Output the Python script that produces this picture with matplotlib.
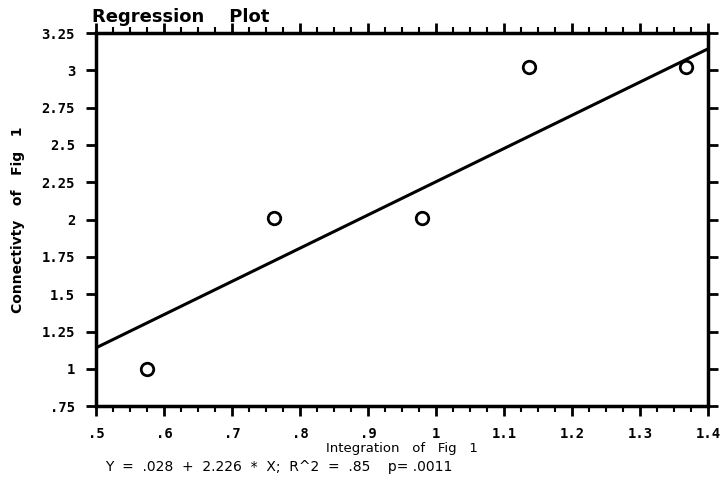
import numpy as np
import matplotlib.pyplot as plt
from matplotlib.ticker import MultipleLocator

# dati
integrazione = np.array([0.575, 0.762, 0.980, 1.137, 1.368])
connettivita = np.array([1.00, 2.01, 2.01, 3.02, 3.02])

# retta di regressione riportata sotto il grafico
intercetta = 0.028
pendenza = 2.226
x_retta = np.array([0.5, 1.4])

x_ticks = [0.5, 0.6, 0.7, 0.8, 0.9, 1.0, 1.1, 1.2, 1.3, 1.4]
x_labels = ['.5', '.6', '.7', '.8', '.9', '1', '1.1', '1.2', '1.3', '1.4']
y_ticks = [0.75, 1.0, 1.25, 1.5, 1.75, 2.0, 2.25, 2.5, 2.75, 3.0, 3.25]
y_labels = ['.75', '1', '1.25', '1.5', '1.75', '2', '2.25', '2.5', '2.75', '3', '3.25']

fig = plt.figure(figsize=(7.27, 4.93), dpi=100)
ax = fig.add_axes([0.132, 0.176, 0.842, 0.757])

ax.plot(x_retta, intercetta + pendenza * x_retta, color='black', lw=2.2)
ax.plot(integrazione, connettivita, 'o', mfc='white', mec='black', ms=9, mew=2)

ax.set_xlim(0.5, 1.4)
ax.set_ylim(0.75, 3.25)

for s in ax.spines.values():
    s.set_linewidth(2.5)

ax.set_xticks(x_ticks)
ax.set_xticklabels(x_labels)
ax.set_yticks(y_ticks)
ax.set_yticklabels(y_labels)
ax.xaxis.set_minor_locator(MultipleLocator(0.025))

ax.tick_params(axis='x', which='major', direction='out', length=7, width=2,
               top=True, pad=8)
ax.tick_params(axis='x', which='minor', direction='out', length=4, width=1.5,
               top=True)
ax.tick_params(axis='y', which='major', direction='out', length=7, width=2,
               right=True, pad=8)

for lab in ax.get_xticklabels() + ax.get_yticklabels():
    lab.set_fontfamily('DejaVu Sans Mono')
    lab.set_fontweight('bold')
    lab.set_fontsize(10)

ax.set_xlabel('Integration   of   Fig   1', fontsize=9.5, labelpad=1)
ax.set_ylabel('Connectivty   of   Fig   1', fontsize=10, fontweight='bold', labelpad=12)

fig.text(0.127, 0.965, 'Regression    Plot', fontsize=13, fontweight='bold',
         ha='left', va='center')
fig.text(0.145, 0.052, 'Y  =  .028  +  2.226  *  X;  R^2  =  .85    p= .0011',
         fontsize=10, ha='left', va='center')

fig.savefig('out.png', dpi=100)
